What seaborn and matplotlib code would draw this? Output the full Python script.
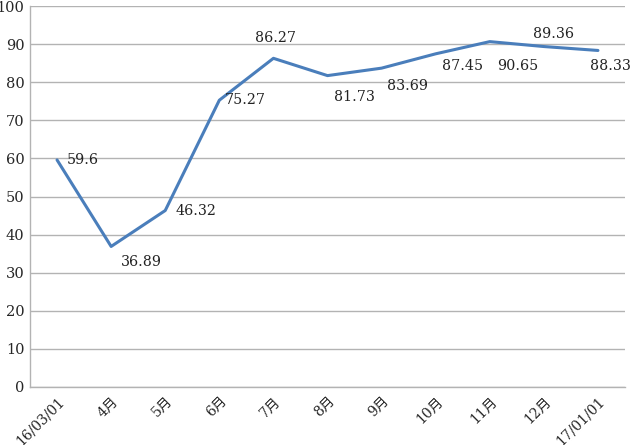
import matplotlib
matplotlib.use("Agg")
import matplotlib.pyplot as plt
import seaborn as sns
import pandas as pd

categories = ["16/03/01", "4月", "5月", "6月", "7月", "8月", "9月", "10月", "11月", "12月", "17/01/01"]
values = [59.6, 36.89, 46.32, 75.27, 86.27, 81.73, 83.69, 87.45, 90.65, 89.36, 88.33]
labels = ["59.6", "36.89", "46.32", "75.27", "86.27", "81.73", "83.69", "87.45", "90.65", "89.36", "88.33"]
yticks = list(range(0, 101, 10))

sns.set_style("white")
plt.rcParams['font.family'] = ['DejaVu Serif', 'Noto Sans CJK SC']

df = pd.DataFrame({"cat": categories, "val": values})

fig = plt.figure(figsize=(6.31, 4.45), dpi=100)
ax = fig.add_axes([30/631, 1-387/445, 595/631, 381/445])

sns.lineplot(data=df, x="cat", y="val", sort=False, color="#4A7EBB", linewidth=2.2, ax=ax)

ax.set_ylim(0, 100)
ax.set_xlim(-0.5, len(categories) - 0.5)
ax.set_yticks(yticks)
ax.set_xticks(range(len(categories)))
ax.set_xticklabels(categories, rotation=45, ha="right", rotation_mode="anchor", fontsize=10)
ax.tick_params(axis="y", labelsize=10.5, length=0, pad=4)
ax.tick_params(axis="x", length=0, pad=5)
ax.set_xlabel("")
ax.set_ylabel("")

ax.yaxis.grid(True, color="#b3b3b3", linewidth=1)
ax.set_axisbelow(True)
for s in ["top", "right"]:
    ax.spines[s].set_visible(False)
for s in ["left", "bottom"]:
    ax.spines[s].set_color("#b3b3b3")
    ax.spines[s].set_linewidth(1)

offsets = [(26, 0), (30, -16), (31, 0), (26, 0), (2, 20), (27, -21),
           (26, -18), (27, -12), (28, -24), (10, 13), (12, -16)]
for i, (v, lab) in enumerate(zip(values, labels)):
    ax.annotate(lab, (i, v), xytext=offsets[i], textcoords="offset pixels",
                ha="center", va="center", fontsize=10.3, color="#222222")

fig.savefig("out.png", dpi=100)
